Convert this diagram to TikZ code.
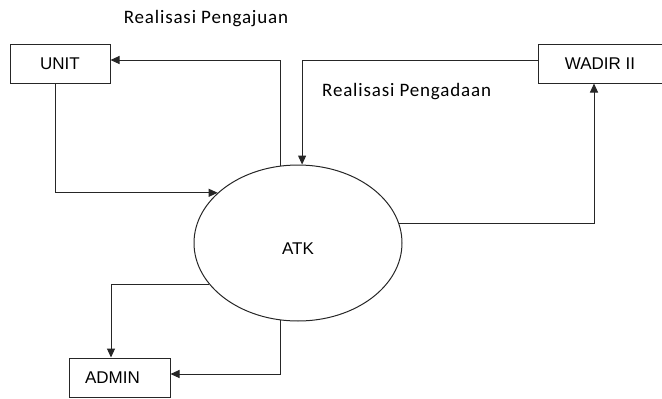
\documentclass[tikz,border=0pt]{standalone}
\usepackage{fontspec}
\setmainfont{Liberation Sans}
\newfontfamily\labfont[LetterSpace=4.4]{Carlito}
\usetikzlibrary{arrows.meta,shapes.geometric}
\begin{document}
\begin{tikzpicture}[x=1pt,y=-1pt,
  line/.style={draw=black!85,line width=1pt},
  flow/.style={line,-{Triangle[length=9pt,width=8pt]}},
  box/.style={line,rectangle,minimum height=39pt,inner sep=0pt,font=\fontsize{17}{20}\selectfont},
  lab/.style={font=\labfont\fontsize{19}{22}\selectfont,inner sep=0pt}]
\clip (0,0) rectangle (662,399);
\node[box,minimum width=100pt] (unit) at (60,63.5) {UNIT};
\node[box,minimum width=142pt] (wadir) at (609,63.5) {\kern-18pt WADIR II};
\node[box,minimum width=101pt] (admin) at (119.5,377.5) {\kern-14pt ADMIN};
\node[line,ellipse,minimum width=208pt,minimum height=156pt,inner sep=0pt,text height=22pt,text depth=0pt,font=\fontsize{17}{20}\selectfont] (atk) at (298,243) {ATK};
\node[lab] (l1) at (206,19) {Realisasi Pengajuan};
\node[lab,anchor=west] (l2) at (322,92) {Realisasi Pengadaan};
\draw[flow] (atk.103.7) |- ([yshift=3.5pt]unit.east);
\draw[flow] ([xshift=-5pt]unit.south) |- (atk.148);
\draw[flow] ([yshift=3.5pt]wadir.west) -| (atk.87);
\draw[flow] (atk.11) -| ([xshift=-15pt]wadir.south);
\draw[flow] (atk.205) -| ([xshift=-8.5pt]admin.north);
\draw[flow] (atk.257) |- ([yshift=3.5pt]admin.east);
\end{tikzpicture}
\end{document}
